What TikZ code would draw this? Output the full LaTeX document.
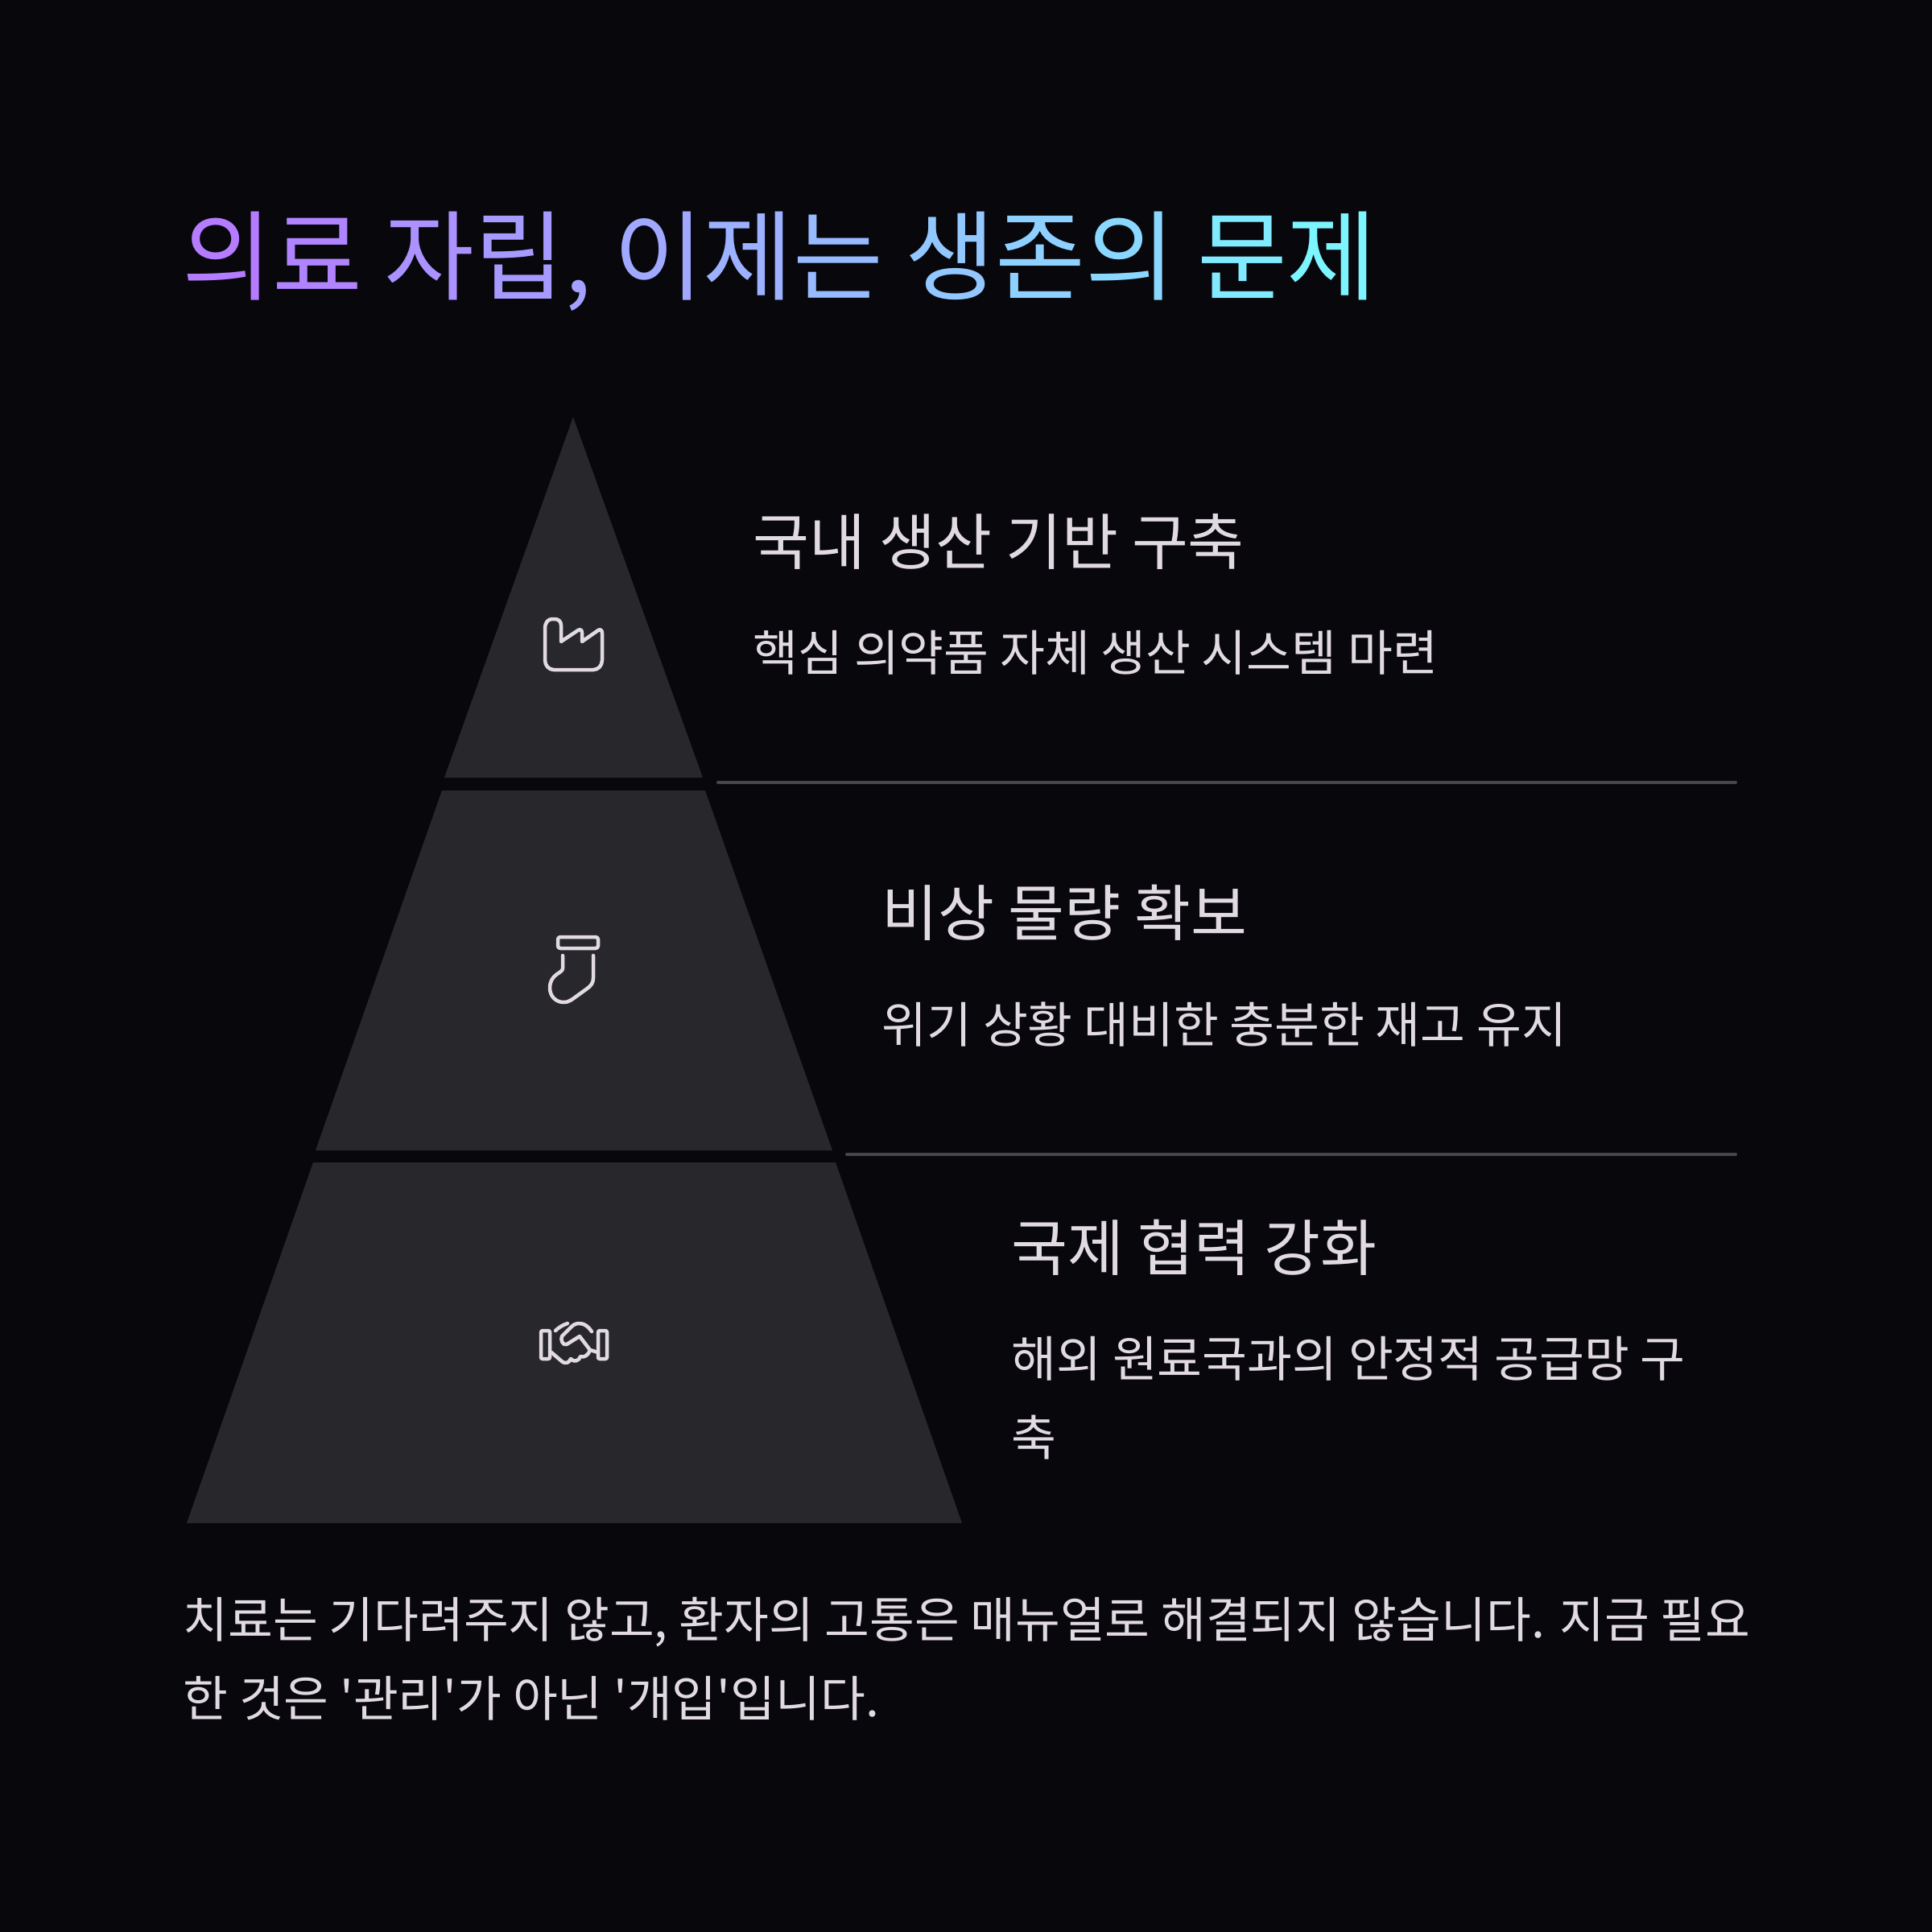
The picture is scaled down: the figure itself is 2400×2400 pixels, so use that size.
\documentclass[tikz,border=0pt]{standalone}
\usepackage{fontspec}
\usepackage{xcolor}
\usetikzlibrary{positioning}
\setmainfont{Noto Sans CJK KR}[Ligatures=TeXOff]
\definecolor{bgdark}{HTML}{07070C}
\definecolor{tierfill}{HTML}{28282C}
\definecolor{rulegray}{HTML}{47474B}
\definecolor{inktext}{HTML}{E2DAE2}
\definecolor{titlel}{HTML}{B57CFF}
\definecolor{titler}{HTML}{7CF5FF}
\newcommand{\gc}[2]{\textcolor{titler!#1!titlel}{#2}}
\newcommand{\pxfont}[2]{\fontsize{#1}{#2}\selectfont}

\begin{document}
\begin{tikzpicture}[
  x=0.01cm, y=-0.01cm,
  tier/.style={fill=tierfill},
  sep/.style={draw=rulegray, line width=0.04cm, line cap=round},
  icon/.style={draw=inktext, line width=0.045cm, line cap=round, line join=round},
  titletxt/.style={anchor=base west, inner sep=0pt, font=\pxfont{34.55}{41}},
  headtxt/.style={anchor=base west, inner sep=0pt, text=inktext, font=\pxfont{21.6}{26}},
  subtxt/.style={anchor=base west, inner sep=0pt, text=inktext, font=\pxfont{17.27}{27.9}},
  bodytxt/.style={anchor=north west, inner sep=0pt, text=inktext, align=left, font=\pxfont{17.25}{27.9}}
]
\fill[bgdark] (0,0) rectangle (2400,2400);
\useasboundingbox (0,0) rectangle (2400,2400);

% title
\node[titletxt] (title) at (226,363) {\gc{0}{의}\gc{7}{료} \gc{18}{자}\gc{25}{립}\gc{30}{,} \gc{37}{이}\gc{44}{제}\gc{51}{는} \gc{62}{생}\gc{69}{존}\gc{76}{의} \gc{91}{문}\gc{100}{제}};

% pyramid
\fill[tier] (712,518) -- (873,966) -- (552,966) -- cycle;
\fill[tier] (549,982) -- (876,982) -- (1034,1429) -- (392,1429) -- cycle;
\fill[tier] (389,1444) -- (1038,1444) -- (1195,1892) -- (232,1892) -- cycle;

% separators
\coordinate (sepa) at (892,972);
\coordinate (sepb) at (2156,972);
\coordinate (sepc) at (1052,1434);
\coordinate (sepd) at (2156,1434);
\draw[sep] (sepa) -- (sepb);
\draw[sep] (sepc) -- (sepd);

% factory
\draw[icon] (677,781) .. controls (677,773) and (681,769) .. (686,769) -- (689,769)
  .. controls (694,769) and (697,772) .. (697,777) -- (697,797) -- (718,783)
  .. controls (721,781) and (723,783) .. (723,786) -- (723,797) -- (743,783)
  .. controls (746,781) and (748,783) .. (748,787) -- (748,820)
  .. controls (748,827) and (743,832) .. (737,832) -- (688,832)
  .. controls (682,832) and (677,827) .. (677,820) -- cycle;

% sock
\draw[icon, rounded corners=0.03cm] (693,1164) rectangle (743,1178);
\draw[icon] (699,1187) -- (699,1203) .. controls (699,1206) and (695,1208) .. (692,1210)
  .. controls (686,1214) and (683,1220) .. (683,1227)
  .. controls (683,1238) and (691,1245) .. (700,1245)
  .. controls (704,1245) and (707,1244) .. (710,1242) -- (728,1229)
  .. controls (734,1225) and (737,1221) .. (737,1215) -- (737,1187);

% handshake
\draw[icon, rounded corners=0.02cm] (672,1653) rectangle (683,1688);
\draw[icon, rounded corners=0.02cm] (743,1653) rectangle (754,1688);
\draw[icon] (690,1653) .. controls (694,1649) and (699,1646) .. (705,1644);
\draw[icon] (735,1654) .. controls (731,1648) and (726,1644) .. (720,1644)
  .. controls (716,1644) and (713,1645) .. (710,1648) -- (698,1660)
  .. controls (696,1664) and (699,1672) .. (704,1670) -- (720,1660) -- (733,1677)
  .. controls (731,1683) and (726,1687) .. (721,1685)
  .. controls (720,1690) and (713,1693) .. (709,1688)
  .. controls (707,1693) and (703,1694) .. (699,1692) -- (685,1680);
\draw[icon] (733,1677) -- (743,1680);

% tier labels
\node[headtxt] (heada) at (935,701) {국내 생산 기반 구축};
\node[subtxt] (suba) at (935,833) {핵심 의약품 자체 생산 시스템 마련};
\node[headtxt] (headb) at (1095,1162) {비상 물량 확보};
\node[subtxt] (subb) at (1095,1295) {위기 상황 대비한 충분한 재고 유지};
\node[headtxt] (headc) at (1256,1578) {국제 협력 강화};
\node[subtxt] (subc) at (1256,1710) {해외 원료국과의 안정적 공급망 구};
\node[subtxt] (subd) at (1256,1808) {축};

% closing text
\node[bodytxt] (closing) at (227,1983) {치료는 기다려주지 않고, 환자의 고통은 매뉴얼로 해결되지 않습니다. 지금 필요\\한 것은 '관리'가 아닌 '개입'입니다.};
\end{tikzpicture}
\end{document}
